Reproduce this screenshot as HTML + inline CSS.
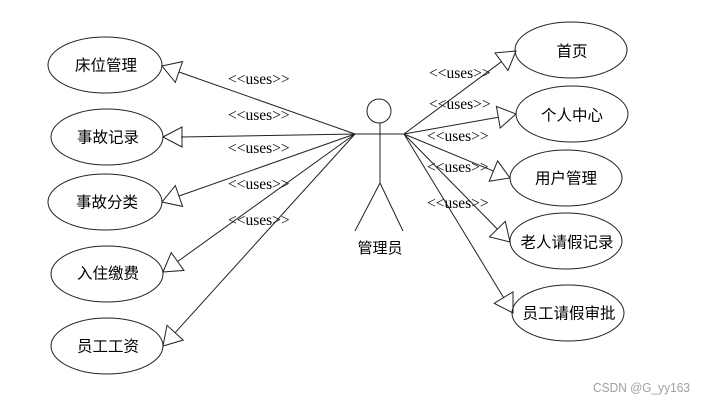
<!DOCTYPE html>
<html>
<head>
<meta charset="utf-8">
<style>
  html,body{margin:0;padding:0;background:#fff;}
  svg{display:block;}
  .cn{font-family:"Liberation Sans","Noto Sans CJK SC",sans-serif;font-size:15.5px;fill:#000;}
  .u{font-family:"Liberation Serif",serif;font-size:15.5px;fill:#000;}
</style>
</head>
<body>
<svg width="706" height="403" viewBox="0 0 706 403" xmlns="http://www.w3.org/2000/svg">
  <rect width="706" height="403" fill="#fff"/>
  <g fill="none" stroke="#222" stroke-width="1">
    <!-- left ellipses -->
    <ellipse cx="105" cy="65" rx="57" ry="28"/>
    <ellipse cx="107" cy="137" rx="56" ry="28"/>
    <ellipse cx="105" cy="202" rx="57" ry="28"/>
    <ellipse cx="107" cy="274" rx="56" ry="28"/>
    <ellipse cx="107" cy="346" rx="56" ry="28"/>
    <!-- right ellipses -->
    <ellipse cx="571" cy="50" rx="56" ry="28"/>
    <ellipse cx="572" cy="114" rx="56" ry="28"/>
    <ellipse cx="566" cy="178" rx="56" ry="28"/>
    <ellipse cx="566" cy="241" rx="56" ry="28"/>
    <ellipse cx="568" cy="313" rx="56" ry="28"/>

    <!-- actor -->
    <circle cx="379" cy="111" r="12"/>
    <line x1="355" y1="134" x2="404" y2="134"/>
    <line x1="380" y1="123" x2="380" y2="183"/>
    <line x1="380" y1="183" x2="355" y2="231"/>
    <line x1="380" y1="183" x2="403" y2="231"/>

    <!-- left connectors -->
    <line x1="355" y1="134" x2="179" y2="72"/>
    <polygon points="162,66 182.6,61.6 175.3,82.4"/>
    <line x1="355" y1="134" x2="181" y2="137"/>
    <polygon points="163,137 182,127 182,147"/>
    <line x1="355" y1="134" x2="179" y2="196"/>
    <polygon points="162,202 182.6,206.4 175.3,185.6"/>
    <line x1="355" y1="134" x2="177.6" y2="261.5"/>
    <polygon points="163,272 184,270.4 171.2,252.6"/>
    <line x1="355" y1="134" x2="175.1" y2="332.7"/>
    <polygon points="163,346 183.2,340.1 167,325.3"/>

    <!-- right connectors -->
    <line x1="404" y1="134" x2="501.5" y2="61.7"/>
    <polygon points="516,51 508,70.5 495,52.9"/>
    <line x1="404" y1="134" x2="498.3" y2="117.2"/>
    <polygon points="516,114 500.2,128 496.4,106.4"/>
    <line x1="404" y1="134" x2="493.4" y2="171.1"/>
    <polygon points="510,178 489.2,181.3 497.6,160.9"/>
    <line x1="404" y1="134" x2="497.4" y2="229.1"/>
    <polygon points="510,242 489.5,236.8 505.3,221.4"/>
    <line x1="404" y1="134" x2="503.6" y2="297.6"/>
    <polygon points="513,313 494.2,303.3 513,291.9"/>
  </g>

  <!-- ellipse labels -->
  <g class="cn" text-anchor="middle">
    <text x="106" y="70.5">床位管理</text>
    <text x="108" y="142.5">事故记录</text>
    <text x="107" y="207.5">事故分类</text>
    <text x="108" y="278.5">入住缴费</text>
    <text x="108" y="351.5">员工工资</text>
    <text x="572" y="56.5">首页</text>
    <text x="572" y="120.5">个人中心</text>
    <text x="566" y="183.5">用户管理</text>
    <text x="567" y="247.5">老人请假记录</text>
    <text x="569" y="318.5">员工请假审批</text>
    <text x="380" y="253" style="font-size:15px">管理员</text>
  </g>

  <!-- uses labels -->
  <g class="u">
    <text x="228" y="84">&lt;&lt;uses&gt;&gt;</text>
    <text x="228" y="120">&lt;&lt;uses&gt;&gt;</text>
    <text x="228" y="153">&lt;&lt;uses&gt;&gt;</text>
    <text x="228" y="189">&lt;&lt;uses&gt;&gt;</text>
    <text x="228" y="225">&lt;&lt;uses&gt;&gt;</text>
    <text x="429" y="78">&lt;&lt;uses&gt;&gt;</text>
    <text x="429" y="109">&lt;&lt;uses&gt;&gt;</text>
    <text x="427" y="141">&lt;&lt;uses&gt;&gt;</text>
    <text x="427" y="172">&lt;&lt;uses&gt;&gt;</text>
    <text x="427" y="208">&lt;&lt;uses&gt;&gt;</text>
  </g>

  <text x="593" y="392" textLength="97" lengthAdjust="spacingAndGlyphs" style="font-family:'Liberation Sans',sans-serif;font-size:12.5px;fill:#a0a0a0">CSDN @G_yy163</text>
</svg>
</body>
</html>
